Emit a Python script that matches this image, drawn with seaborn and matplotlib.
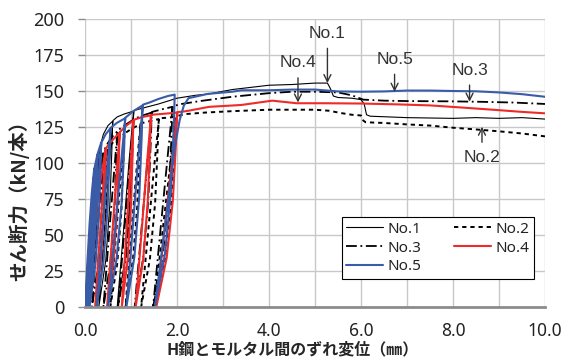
import matplotlib
matplotlib.use("Agg")
import matplotlib.pyplot as plt
import seaborn as sns
import pandas as pd
import numpy as np

# load-slip curves (cyclic loading in the first 2 mm)
x_no1 = [0, 0.05, 0.1, 0.15, 0.2, 0.25, 0.3,
         0.29, 0.256, 0.19, 0.08,
         0.168, 0.245, 0.285, 0.31, 0.35, 0.4, 0.5, 0.6,
         0.585, 0.54, 0.45, 0.3,
         0.42, 0.525, 0.58, 0.61, 0.7, 0.85, 1.05,
         1.03, 0.98, 0.875, 0.7,
         0.84, 0.96, 1.025, 1.07, 1.3, 1.6, 2.0, 2.4, 2.7, 3.2, 3.6, 4.0, 4.5, 5.0, 5.27,
         5.33, 5.4, 5.5, 5.8, 6.0, 6.07, 6.12, 6.2, 7.0, 8.0, 8.5, 9.0, 9.5, 10.0]
y_no1 = [0, 28, 52, 72, 88, 99, 108,
         92, 59, 27, 0,
         43, 81, 99, 109, 114, 120, 126, 129,
         110, 71, 32, 0,
         52, 97, 119, 129.5, 132, 134, 136,
         116, 75, 34, 0,
         54, 102, 125, 136.5, 138.5, 141, 145, 147, 148, 151, 152.5, 154, 154.5, 155.5, 155.5,
         152, 146.5, 145.5, 145, 144, 141, 133.5, 132.5, 131.5, 131, 131.5, 131, 131.5, 130.5]

x_no2 = [0, 0.1, 0.2, 0.3, 0.4, 0.5,
         0.488, 0.45, 0.375, 0.25,
         0.35, 0.44, 0.483, 0.51, 0.6, 0.72, 0.85,
         0.835, 0.79, 0.70, 0.55,
         0.67, 0.775, 0.83, 0.86, 1.0, 1.2,
         1.184, 1.136, 1.04, 0.88,
         1.008, 1.12, 1.178, 1.21, 1.4, 1.6,
         1.58, 1.524, 1.41, 1.22,
         1.372, 1.505, 1.575, 1.61, 1.8, 1.97,
         1.946, 1.876, 1.735, 1.5,
         1.688, 1.853, 1.937, 1.98, 2.2, 2.6, 3.2, 4.0, 4.6, 5.0, 5.3, 5.6, 5.8, 6.0,
         6.05, 6.1, 6.5, 7.0, 7.5, 8.0, 8.5, 9.0, 9.5, 10.0]
y_no2 = [0, 30, 58, 80, 97, 110,
         94, 60, 27, 0,
         44, 82, 101, 110.5, 114, 117.5, 120,
         102, 66, 30, 0,
         48, 90, 110, 120.5, 123.5, 127,
         108, 70, 32, 0,
         51, 95, 117, 127.5, 129, 130.5,
         111, 72, 33, 0,
         52, 98, 120, 131, 131.5, 132,
         112, 73, 33, 0,
         53, 99, 121, 132.5, 134, 135, 136, 137, 137, 137, 136.3, 134.5, 133.5, 133,
         129.5, 128.3, 127.8, 126.8, 126, 124.5, 123.3, 122, 120.5, 118.5]

x_no3 = [0, 0.1, 0.2, 0.3, 0.4,
         0.388, 0.35, 0.275, 0.15,
         0.25, 0.34, 0.383, 0.41, 0.5, 0.6, 0.7,
         0.685, 0.64, 0.55, 0.4,
         0.52, 0.625, 0.68, 0.71, 0.85, 1.05,
         1.034, 0.984, 0.885, 0.72,
         0.852, 0.968, 1.027, 1.06, 1.25, 1.45,
         1.43, 1.376, 1.265, 1.08,
         1.228, 1.358, 1.424, 1.46, 1.7, 1.9,
         1.88, 1.816, 1.69, 1.48,
         1.648, 1.795, 1.87, 1.91, 2.1, 2.5, 3.2, 4.0, 4.5, 5.0, 5.5, 5.8, 6.05,
         6.5, 7.0, 8.0, 8.6, 9.3, 10.0]
y_no3 = [0, 35, 65, 90, 108,
         92, 59, 27, 0,
         43, 81, 99, 108.5, 114, 118.5, 122,
         104, 67, 30, 0,
         49, 91, 112, 122.5, 126, 130,
         110, 71, 32, 0,
         52, 97, 120, 130.5, 133, 135,
         115, 74, 34, 0,
         54, 101, 124, 135.5, 137.5, 139,
         118, 76, 35, 0,
         56, 104, 128, 139.5, 141, 143, 146, 148.5, 149.5, 149.5, 149, 147, 144,
         143.3, 143, 142.8, 142.5, 142, 141]

x_no4 = [0, 0.1, 0.2, 0.3, 0.4, 0.45,
         0.439, 0.404, 0.335, 0.22,
         0.312, 0.393, 0.434, 0.46, 0.6, 0.75,
         0.737, 0.696, 0.615, 0.48,
         0.588, 0.683, 0.731, 0.76, 0.9, 1.05,
         1.038, 1.0, 0.925, 0.8,
         0.9, 0.988, 1.033, 1.06, 1.25, 1.43,
         1.414, 1.364, 1.265, 1.1,
         1.232, 1.348, 1.407, 1.44, 1.65, 2.0,
         1.978, 1.91, 1.775, 1.55,
         1.73, 1.888, 1.969, 2.01, 2.2, 2.7, 3.4, 4.07, 4.6, 5.2, 6.0, 6.8, 7.5,
         8.2, 8.95, 9.5, 10.0]
y_no4 = [0, 28, 55, 80, 100, 110,
         94, 61, 28, 0,
         44, 83, 101, 110.5, 116, 121,
         103, 67, 30, 0,
         48, 91, 111, 121.5, 126, 129.5,
         110, 71, 32, 0,
         52, 97, 119, 130, 132, 133,
         113, 73, 33, 0,
         53, 100, 122, 133.5, 134, 135,
         114, 74, 34, 0,
         54, 101, 124, 135.3, 136, 139, 140.3, 143.3, 141.5, 141.5, 141.3, 140.7, 140,
         138.5, 136.8, 135.5, 134.5]

x_no5 = [0, 0.05, 0.1, 0.15, 0.2,
         0.192, 0.166, 0.115, 0.03,
         0.098, 0.158, 0.188, 0.21, 0.27,
         0.26, 0.228, 0.165, 0.06,
         0.144, 0.218, 0.255, 0.28, 0.35,
         0.338, 0.3, 0.225, 0.1,
         0.2, 0.288, 0.333, 0.36, 0.45, 0.55,
         0.535, 0.49, 0.4, 0.25,
         0.37, 0.475, 0.53, 0.56, 0.7, 0.87,
         0.852, 0.796, 0.685, 0.5,
         0.648, 0.778, 0.844, 0.88, 1.05, 1.25,
         1.233, 1.18, 1.075, 0.9,
         1.04, 1.163, 1.225, 1.26, 1.4, 1.6, 1.8, 1.95,
         1.93, 1.87, 1.74, 1.52,
         1.75, 1.95, 2.06, 2.15, 2.25, 2.67, 3.2, 3.4, 4.0, 4.5, 5.0, 5.5, 6.0,
         6.5, 7.0, 7.5, 8.0, 8.5, 9.0, 9.5, 10.0]
y_no5 = [0, 30, 58, 80, 96,
         82, 53, 24, 0,
         38, 72, 88, 97, 106,
         90, 58, 27, 0,
         42, 80, 97, 107, 114,
         97, 63, 29, 0,
         46, 86, 105, 114.5, 120, 124,
         105, 68, 31, 0,
         50, 93, 114, 124.5, 128, 131,
         111, 72, 33, 0,
         52, 98, 121, 131.5, 136, 140,
         119, 77, 35, 0,
         56, 105, 129, 140.5, 142, 144.5, 146.5, 147.5,
         125, 81, 37, 0,
         59, 111, 130, 140, 145, 148, 149.5, 150.5, 150.5, 151, 151, 149.7, 149.5,
         149.7, 150.3, 150.3, 150, 149.8, 149, 147.8, 146]

specimens = ["No.1", "No.2", "No.3", "No.4", "No.5"]
xs = [x_no1, x_no2, x_no3, x_no4, x_no5]
ys = [y_no1, y_no2, y_no3, y_no4, y_no5]

frames = []
for name, xv, yv in zip(specimens, xs, ys):
    frames.append(pd.DataFrame({"slip": xv, "load": yv, "specimen": name}))
df = pd.concat(frames, ignore_index=True)

sns.set_style("white")
plt.rcParams['font.family'] = ['Noto Sans', 'Noto Sans CJK JP', 'DejaVu Sans']

fig = plt.figure(figsize=(5.63, 3.62), dpi=100)
ax = fig.add_axes([85 / 563, 1 - 307 / 362, 460 / 563, 288 / 362])

palette = {"No.1": "black", "No.2": "black", "No.3": "black",
           "No.4": "#ee2a2a", "No.5": "#3a5ba8"}
dashes = {"No.1": "", "No.2": (2.2, 2.0), "No.3": (6, 2, 1, 2),
          "No.4": "", "No.5": ""}
sizes = {"No.1": 0.8, "No.2": 1.4, "No.3": 1.3, "No.4": 1.5, "No.5": 1.5}

sns.lineplot(data=df, x="slip", y="load", hue="specimen", style="specimen",
             size="specimen", palette=palette, dashes=dashes, sizes=sizes,
             sort=False, estimator=None, ax=ax)

ax.set_xlim(0, 10)
ax.set_ylim(0, 200)
ax.set_xticks(np.arange(0, 10.1, 2))
ax.set_xticks(np.arange(0, 10.1, 1), minor=True)
ax.set_yticks(np.arange(0, 201, 25))
ax.set_xticklabels(["0.0", "2.0", "4.0", "6.0", "8.0", "10.0"])
ax.grid(True, which="both", color="#c8c8c8", lw=1.0)
ax.set_axisbelow(True)
for s in ["top", "right", "left"]:
    ax.spines[s].set_visible(False)
ax.spines["bottom"].set_color("#8c8c8c")
ax.spines["bottom"].set_linewidth(2)
ax.tick_params(axis="x", which="major", direction="out", length=5, width=1,
               color="#8c8c8c", labelsize=12.5, pad=6, labelcolor="#222222")
ax.tick_params(axis="x", which="minor", length=0)
ax.tick_params(axis="y", direction="out", length=5, width=1, color="#8c8c8c",
               labelsize=13, pad=10, labelcolor="#222222", left=True)

ax.set_xlabel("H鋼とモルタル間のずれ変位（㎜）", family=['Noto Sans CJK JP'],
              fontsize=11.5, fontweight="bold")
ax.xaxis.set_label_coords(0.452, -0.118)
ax.set_ylabel("せん断力（kN/本）", family=['Noto Sans CJK JP'],
              fontsize=14, fontweight="bold")
ax.yaxis.set_label_coords(-0.122, 0.385)

ann = [("No.1", 5.27, 155.5, 190), ("No.4", 4.63, 142.0, 169.5),
       ("No.5", 6.73, 149.5, 172.0), ("No.3", 8.36, 142.6, 164.5),
       ("No.2", 8.63, 125.2, 104.0)]
for label, ax_x, tip_y, txt_y in ann:
    ax.annotate(label, xy=(ax_x, tip_y), xytext=(ax_x, txt_y),
                ha="center", va="center", fontsize=12.5, color="#333333",
                family=["Liberation Sans"],
                arrowprops=dict(arrowstyle="->", color="#333333", lw=1.0,
                                shrinkA=3, shrinkB=0))

# reorder so the 2-column legend reads row by row
handles, labels = ax.get_legend_handles_labels()
order = [labels.index(n) for n in ["No.1", "No.3", "No.5", "No.2", "No.4"]]
ax.legend([handles[i] for i in order], [labels[i] for i in order],
          loc="lower left", bbox_to_anchor=(0.558, 0.097, 0.418, 0.203),
          ncol=2, frameon=True, fontsize=11, borderaxespad=0,
          handlelength=2.4, columnspacing=1.0, handletextpad=0.3,
          labelspacing=0.25, borderpad=0.3, mode="expand",
          fancybox=False, edgecolor="black", framealpha=1)
leg = ax.get_legend()
leg.get_frame().set_linewidth(0.8)
for t in leg.get_texts():
    t.set_color("#222222")

fig.savefig("out.png", dpi=100)
